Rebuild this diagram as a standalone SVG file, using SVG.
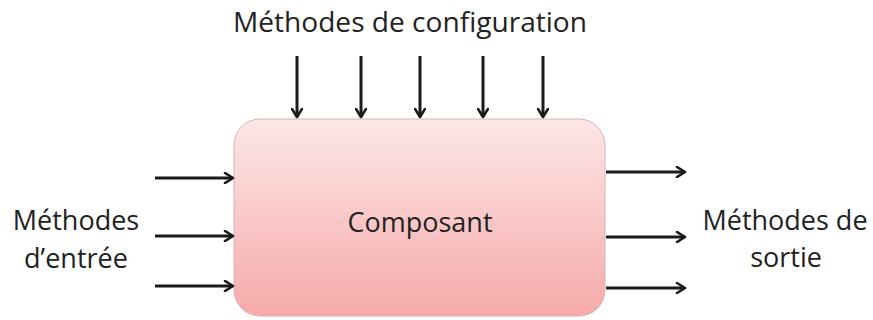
<svg xmlns="http://www.w3.org/2000/svg" width="873" height="320" viewBox="0 0 873 320">
<defs>
<linearGradient id="g" x1="0" y1="0" x2="0" y2="1">
<stop offset="0" stop-color="#fde7e7"/>
<stop offset="1" stop-color="#f6a9a9"/>
</linearGradient>
<marker id="ah" viewBox="0 0 12 12" refX="10" refY="6" markerWidth="12" markerHeight="12" markerUnits="userSpaceOnUse" orient="auto">
<polyline points="2,1 10,6 2,11" fill="none" stroke="#1a1a1a" stroke-width="2.6" stroke-linecap="round" stroke-linejoin="round"/>
</marker>
<style>
.t{font-family:"Open Sans","Liberation Sans",sans-serif;font-size:27px;fill:#222;}
.c{stroke:#1a1a1a;stroke-width:3;fill:none;marker-end:url(#ah);}
</style>
</defs>
<g id="composant">
<rect x="234" y="119" width="371" height="197" rx="26" ry="26" fill="url(#g)" stroke="#d9b3b3" stroke-width="1"/>
<text class="t" x="420" y="232" text-anchor="middle">Composant</text>
</g>
<g id="config">
<text class="t" x="410" y="32" text-anchor="middle" textLength="354" lengthAdjust="spacingAndGlyphs">Méthodes de configuration</text>
</g>
<g id="entree">
<text class="t" x="76" y="230" text-anchor="middle">Méthodes</text>
<text class="t" x="76" y="268" text-anchor="middle">d’entrée</text>
</g>
<g id="sortie">
<text class="t" x="785" y="230" text-anchor="middle">Méthodes de</text>
<text class="t" x="786" y="267" text-anchor="middle">sortie</text>
</g>
<g id="connectors">
<line class="c" x1="297" y1="56" x2="297" y2="117"/>
<line class="c" x1="361" y1="56" x2="361" y2="117"/>
<line class="c" x1="420" y1="56" x2="420" y2="117"/>
<line class="c" x1="483" y1="56" x2="483" y2="117"/>
<line class="c" x1="543" y1="56" x2="543" y2="117"/>
<line class="c" x1="155" y1="178" x2="233" y2="178"/>
<line class="c" x1="155" y1="236" x2="233" y2="236"/>
<line class="c" x1="155" y1="286" x2="233" y2="286"/>
<line class="c" x1="606" y1="172" x2="685" y2="172"/>
<line class="c" x1="606" y1="237" x2="685" y2="237"/>
<line class="c" x1="606" y1="288" x2="685" y2="288"/>
</g>
</svg>
